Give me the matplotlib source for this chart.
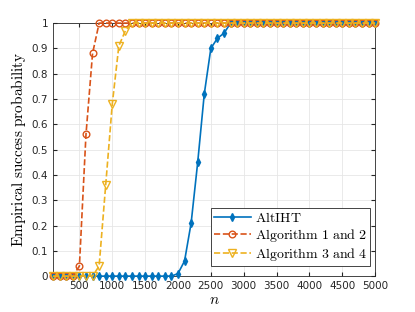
import numpy as np
import matplotlib.pyplot as plt

# --- Data ---
n = np.arange(100, 5001, 100)

altiht = [0] * 19 + [0.01, 0.06, 0.21, 0.45, 0.72, 0.90, 0.94, 0.96] + [1] * 23
alg12 = [0] * 4 + [0.04, 0.56, 0.88] + [1] * 43
alg34 = [0] * 7 + [0.04, 0.36, 0.68, 0.91, 0.97] + [1] * 38

x_ticks = np.arange(500, 5001, 500)
y_ticks = np.round(np.arange(0, 1.01, 0.1), 1)
y_labels = ['0'] + [f'{v:.1f}' for v in y_ticks[1:-1]] + ['1']

# --- Style ---
plt.rcParams['mathtext.fontset'] = 'cm'
plt.rcParams['font.family'] = 'DejaVu Sans'

fig = plt.figure(figsize=(4.15, 3.12), dpi=100)
ax = fig.add_axes([0.128, 0.115, 0.776, 0.811])

ax.plot(n, altiht, '-', color='#0072BD', marker='d', markersize=4,
        linewidth=1.2, label=r'$\mathrm{AltIHT}$', clip_on=False, zorder=3)
ax.plot(n, alg12, '--', color='#D95319', marker='o', markersize=4.8,
        markerfacecolor='none', linewidth=1.2, label=r'$\mathrm{Algorithm\ 1\ and\ 2}$',
        clip_on=False, zorder=4)
ax.plot(n, alg34, '--', color='#EDB120', marker='v', markersize=5.5,
        markerfacecolor='none', linewidth=1.2, label=r'$\mathrm{Algorithm\ 3\ and\ 4}$',
        clip_on=False, zorder=5)

ax.set_xlim(100, 5000)
ax.set_ylim(0, 1)
ax.set_xticks(x_ticks)
ax.set_yticks(y_ticks)
ax.set_yticklabels(y_labels)
ax.tick_params(direction='in', labelsize=7.5, colors='#262626', length=3,
               top=True, right=True)
for s in ax.spines.values():
    s.set_color('#262626')
    s.set_linewidth(0.6)
ax.grid(True, color='#e6e6e6', linewidth=0.6)
ax.set_axisbelow(True)

ax.set_xlabel(r'$n$', fontsize=11, labelpad=1)
ax.set_ylabel(r'$\mathrm{Empirical\ success\ probability}$', fontsize=11, labelpad=3)

leg = ax.legend(loc='lower right', bbox_to_anchor=(0.985, 0.04), fontsize=10,
                fancybox=False, framealpha=1, edgecolor='#262626',
                handlelength=2.7, borderpad=0.2, labelspacing=0.15,
                handletextpad=0.3, borderaxespad=0)
leg.get_frame().set_linewidth(0.6)

fig.savefig('out.png', dpi=100)
